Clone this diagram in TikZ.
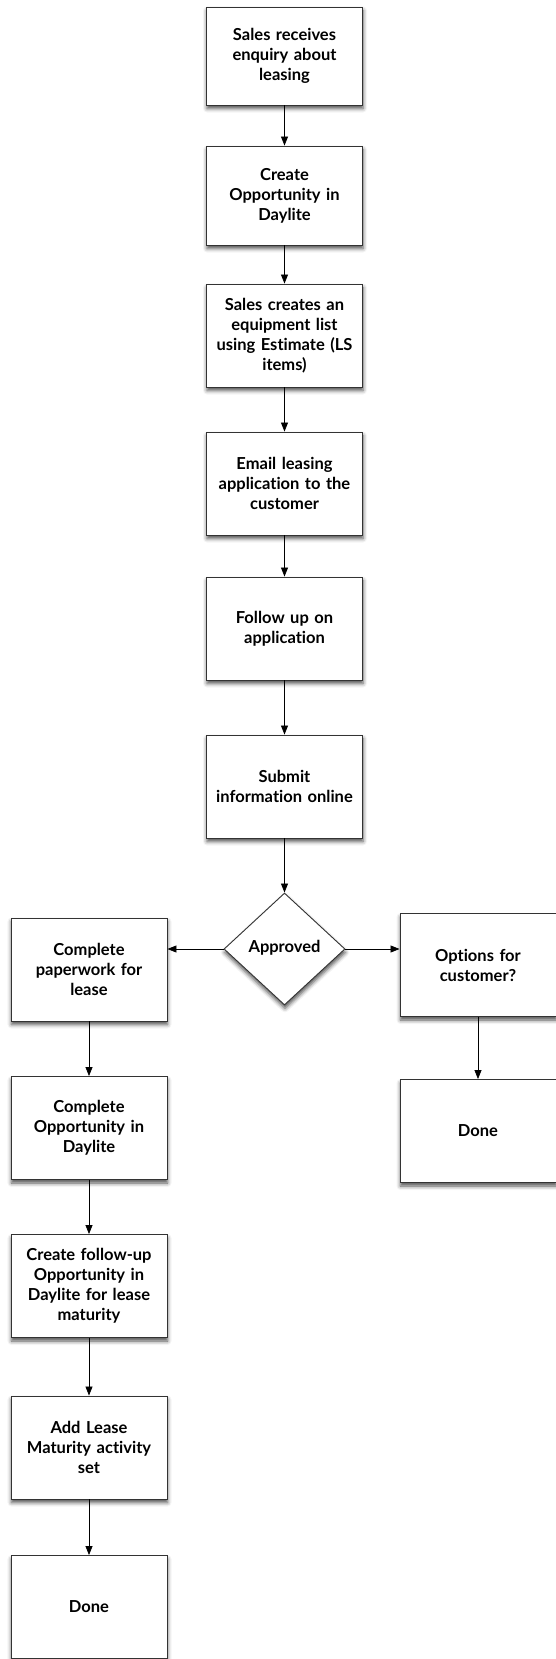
\documentclass[tikz,border=0pt]{standalone}
\usepackage{fontspec}
\setmainfont{Lato}[Ligatures=NoCommon]
\usetikzlibrary{shapes.geometric,arrows.meta,shadows.blur}

\begin{document}
\begin{tikzpicture}[
  x=1pt,
  y=-1pt,
  font=\bfseries\fontsize{16.5}{20}\selectfont,
  flow line/.style={line width=0.8pt, -{Triangle[length=9pt,width=7pt]}},
  process box/.style={
    draw=black!80,
    line width=0.9pt,
    fill=white,
    minimum width=156pt,
    minimum height=103pt,
    text width=156pt,
    align=center,
    inner sep=0pt,
    blur shadow={shadow xshift=0.5pt, shadow yshift=-3.5pt,
      shadow blur radius=4pt, shadow opacity=70}
  },
  decision/.style={
    diamond,
    draw=black!80,
    line width=0.9pt,
    fill=white,
    minimum width=121pt,
    minimum height=112pt,
    inner sep=0pt,
    blur shadow={shadow xshift=0.5pt, shadow yshift=-3.5pt,
      shadow blur radius=4pt, shadow opacity=70}
  }
]
  \useasboundingbox (0,0) rectangle (555,1659);

  % main column
  \node[process box, minimum height=98pt] (enquiry) at (284.5,56)
    {Sales receives\\enquiry about\\leasing};
  \node[process box, minimum height=99pt] (opportunity) at (284.5,195.5)
    {Create\\Opportunity in\\Daylite};
  \foreach \name/\y/\boxText in {
      equipment/335.5/{Sales creates an\\equipment list\\using Estimate (LS\\items)},
      email/483.5/{Email leasing\\application to the\\customer},
      followup/628.5/{Follow up on\\application},
      submit/786.5/{Submit\\information online}} {
    \node[process box] (\name) at (284.5,\y) {\boxText};
  }
  \node[decision] (approved) at (284.5,949) {\raisebox{5pt}{Approved}};

  % approved branch
  \foreach \name/\y/\boxText in {
      paperwork/969.5/{Complete\\paperwork for\\lease},
      complete/1128/{Complete\\Opportunity in\\Daylite},
      maturity/1286/{Create follow-up\\Opportunity in\\Daylite for lease\\maturity},
      activity/1447.5/{Add Lease\\Maturity activity\\set},
      doneLeft/1607/{Done}} {
    \node[process box] (\name) at (89,\y) {\boxText};
  }

  % other branch
  \node[process box] (options) at (478,965) {Options for\\customer?};
  \node[process box] (doneRight) at (478,1131) {Done};

  \foreach \from/\to in {enquiry/opportunity, opportunity/equipment,
      equipment/email, email/followup, followup/submit, submit/approved,
      paperwork/complete, complete/maturity, maturity/activity,
      activity/doneLeft, options/doneRight}
    \draw[flow line] (\from) -- (\to);
  \draw[flow line] (approved.west) -- (approved.west -| paperwork.east);
  \draw[flow line] (approved.east) -- (approved.east -| options.west);
\end{tikzpicture}
\end{document}
